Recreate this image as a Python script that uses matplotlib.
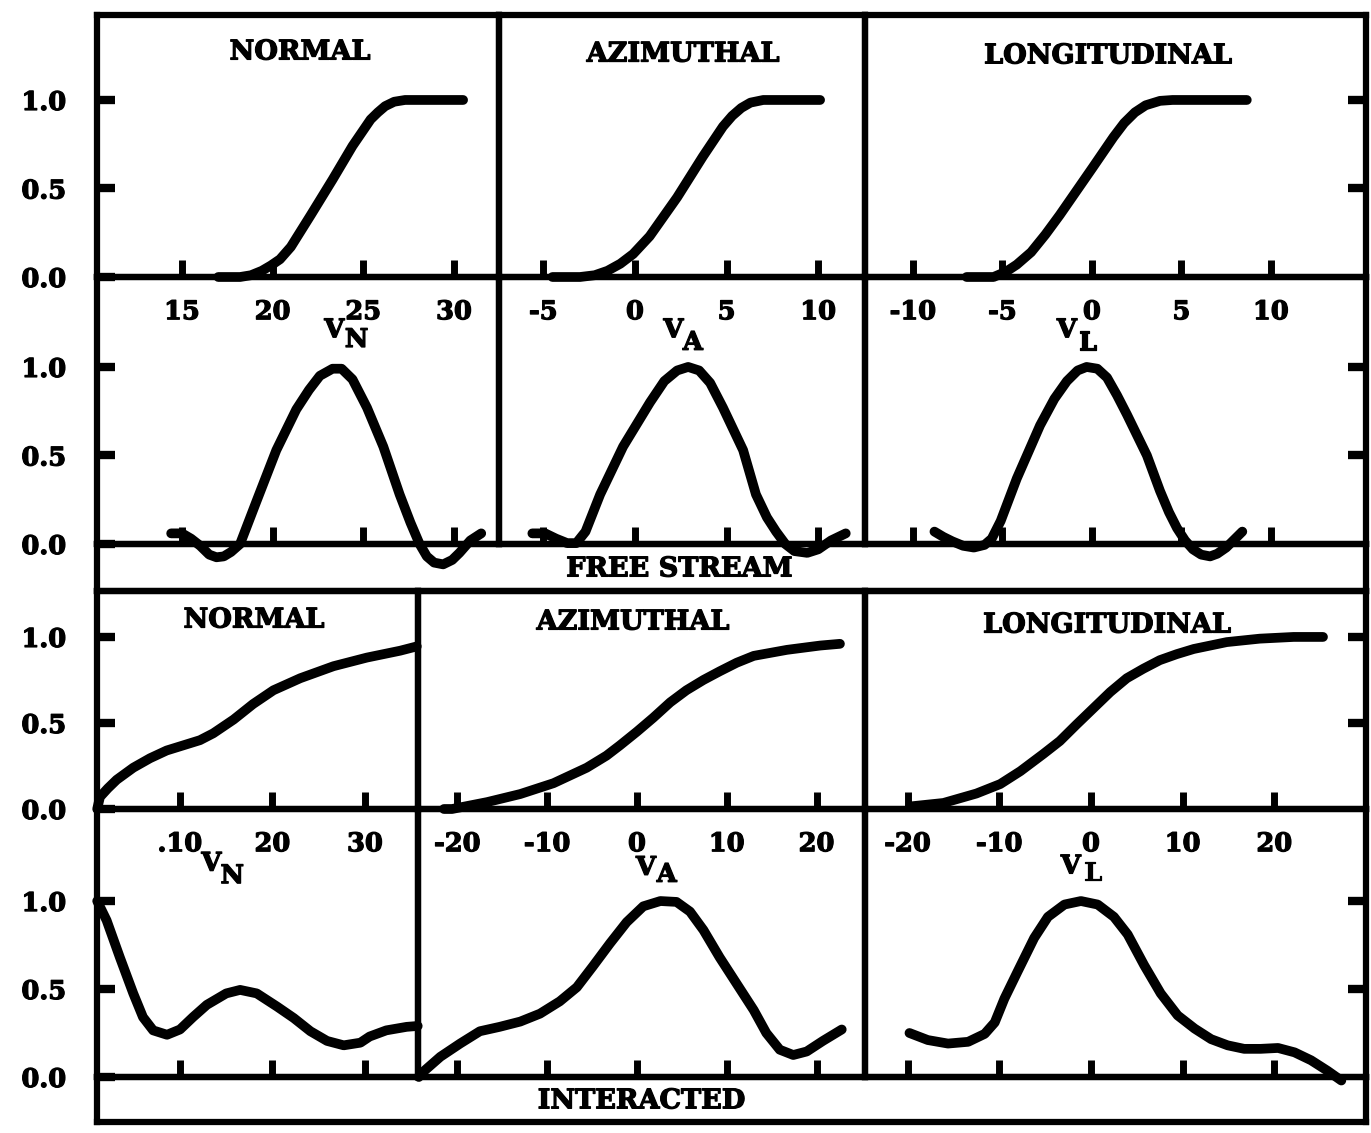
import matplotlib.pyplot as plt
import matplotlib.patheffects as pe

plt.rcParams['font.family'] = 'DejaVu Serif'
plt.rcParams['font.weight'] = 'bold'
plt.rcParams['axes.unicode_minus'] = False

# ---- free stream: cumulative (top row) ----
fs_norm_cdf_x = [17.0, 18.2, 18.8, 19.4, 19.9, 20.4, 21.0, 22.1, 23.3, 24.4, 25.4, 25.8, 26.2, 26.7, 27.3, 30.5]
fs_norm_cdf_y = [0.0, 0.0, 0.01, 0.035, 0.065, 0.10, 0.17, 0.35, 0.55, 0.74, 0.89, 0.93, 0.965, 0.99, 1.0, 1.0]
fs_azim_cdf_x = [-4.5, -3.0, -2.2, -1.5, -0.8, -0.1, 0.8, 2.3, 3.7, 4.8, 5.3, 5.8, 6.3, 7.0, 10.1]
fs_azim_cdf_y = [0.0, 0.0, 0.01, 0.035, 0.075, 0.13, 0.23, 0.45, 0.68, 0.85, 0.91, 0.955, 0.985, 1.0, 1.0]
fs_long_cdf_x = [-7.0, -5.5, -4.8, -4.2, -3.4, -2.6, -1.8, 0.05, 1.2, 1.8, 2.4, 3.0, 3.8, 4.5, 8.65]
fs_long_cdf_y = [0.0, 0.0, 0.03, 0.07, 0.14, 0.24, 0.35, 0.62, 0.79, 0.87, 0.93, 0.97, 0.995, 1.0, 1.0]

# ---- free stream: density (second row) ----
fs_norm_pdf_x = [14.4, 15.0, 15.5, 16.0, 16.5, 16.9, 17.3, 17.7, 18.2, 19.1, 20.2, 21.3, 22.0, 22.6, 23.3,
                 23.8, 24.4, 25.2, 26.1, 27.0, 27.6, 28.1, 28.5, 28.9, 29.4, 29.9, 30.3, 30.9, 31.5]
fs_norm_pdf_y = [0.06, 0.06, 0.03, -0.01, -0.06, -0.075, -0.07, -0.045, 0.0, 0.24, 0.53, 0.76, 0.87, 0.95, 0.99,
                 0.99, 0.93, 0.77, 0.55, 0.28, 0.12, 0.0, -0.07, -0.105, -0.115, -0.09, -0.05, 0.02, 0.06]
fs_azim_pdf_x = [-5.6, -4.9, -4.3, -3.7, -3.2, -2.7, -1.9, -0.65, 0.82, 1.6, 2.3, 2.9, 3.5, 4.1, 4.8,
                 5.9, 6.6, 7.2, 7.7, 8.2, 8.7, 9.4, 10.0, 10.7, 11.5]
fs_azim_pdf_y = [0.06, 0.06, 0.03, 0.005, 0.005, 0.07, 0.28, 0.55, 0.80, 0.92, 0.98, 1.0, 0.98, 0.91, 0.77,
                 0.53, 0.28, 0.15, 0.07, 0.0, -0.04, -0.05, -0.03, 0.02, 0.06]
fs_long_pdf_x = [-8.8, -8.3, -7.8, -7.2, -6.6, -6.0, -5.6, -5.1, -4.2, -2.9, -2.1, -1.4, -0.8, -0.3, 0.3,
                 0.84, 1.4, 1.96, 3.07, 3.8, 4.3, 4.75, 5.2, 5.64, 6.1, 6.6, 7.0, 7.5, 8.0, 8.4]
fs_long_pdf_y = [0.07, 0.04, 0.015, -0.01, -0.02, -0.005, 0.03, 0.13, 0.37, 0.67, 0.82, 0.92, 0.98, 1.0, 0.99,
                 0.94, 0.84, 0.73, 0.50, 0.30, 0.18, 0.09, 0.02, -0.03, -0.06, -0.07, -0.055, -0.02, 0.03, 0.07]

# ---- interacted: cumulative (third row) ----
in_norm_cdf_x = [1.05, 1.35, 2.2, 3.16, 4.95, 6.76, 8.56, 10.36, 12.16, 13.6, 15.8, 17.9, 20.1, 23.0, 26.6, 30.2, 33.8, 35.6]
in_norm_cdf_y = [0.0, 0.07, 0.12, 0.17, 0.24, 0.295, 0.34, 0.37, 0.40, 0.44, 0.52, 0.61, 0.69, 0.76, 0.83, 0.88, 0.92, 0.945]
in_azim_cdf_x = [-21.5, -20.6, -16.7, -13.0, -9.3, -5.6, -3.4, -1.9, 0.0, 1.8, 3.7, 5.5, 7.4, 9.2, 11.1, 13.0, 16.7, 20.4, 22.6]
in_azim_cdf_y = [0.0, 0.0, 0.04, 0.087, 0.15, 0.24, 0.31, 0.37, 0.45, 0.53, 0.62, 0.69, 0.75, 0.80, 0.85, 0.89, 0.925, 0.95, 0.96]
in_long_cdf_x = [-19.7, -16.1, -12.5, -9.9, -7.7, -5.2, -3.4, -1.6, 0.25, 2.1, 3.9, 5.7, 7.5, 9.35, 11.2, 14.8, 18.4, 22.1, 25.3]
in_long_cdf_y = [0.015, 0.035, 0.09, 0.145, 0.22, 0.32, 0.395, 0.49, 0.585, 0.68, 0.76, 0.815, 0.865, 0.90, 0.93, 0.97, 0.99, 1.0, 1.0]

# ---- interacted: density (bottom row) ----
in_norm_pdf_x = [1.05, 2.07, 3.5, 4.95, 6.0, 7.1, 8.6, 10.0, 11.4, 12.9, 15.0, 16.5, 18.3, 20.5, 22.3,
                 24.1, 25.9, 27.7, 29.5, 30.5, 32.3, 34.5, 35.7]
in_norm_pdf_y = [1.0, 0.89, 0.68, 0.475, 0.34, 0.265, 0.24, 0.27, 0.34, 0.41, 0.475, 0.495, 0.475, 0.40, 0.335,
                 0.26, 0.205, 0.18, 0.195, 0.23, 0.265, 0.285, 0.29]
in_azim_pdf_x = [-24.3, -23.8, -21.9, -19.7, -17.5, -15.3, -13.0, -10.8, -8.6, -6.7, -4.9, -3.0, -1.15, 0.7, 2.6,
                 4.4, 5.9, 7.4, 9.2, 11.1, 13.0, 14.4, 15.9, 17.4, 18.9, 20.7, 22.8]
in_azim_pdf_y = [0.0, 0.03, 0.115, 0.19, 0.26, 0.285, 0.315, 0.36, 0.43, 0.51, 0.63, 0.76, 0.88, 0.97, 1.0,
                 0.995, 0.94, 0.835, 0.68, 0.53, 0.38, 0.25, 0.155, 0.125, 0.145, 0.205, 0.27]
in_long_pdf_x = [-19.8, -17.8, -15.6, -13.4, -11.6, -10.5, -9.45, -8.0, -6.2, -4.7, -2.9, -1.1, 0.73, 2.5, 4.0,
                 5.8, 7.6, 9.45, 11.3, 13.1, 14.9, 16.7, 18.5, 20.4, 22.2, 24.0, 25.8, 27.3]
in_long_pdf_y = [0.25, 0.21, 0.19, 0.20, 0.245, 0.31, 0.445, 0.60, 0.79, 0.91, 0.98, 1.0, 0.98, 0.91, 0.81,
                 0.635, 0.475, 0.35, 0.275, 0.215, 0.18, 0.16, 0.16, 0.165, 0.14, 0.095, 0.035, -0.02]

# ---- tick values and labels ----
y_ticks = [0.0, 0.5, 1.0]
y_labels = ['0.0', '0.5', '1.0']
fs_norm_ticks = [15, 20, 25, 30]
fs_azim_ticks = [-5, 0, 5, 10]
fs_long_ticks = [-10, -5, 0, 5, 10]
in_norm_ticks = [10, 20, 30]
in_norm_labels = ['.10', '20', '30']
in_azim_ticks = [-20, -10, 0, 10, 20]
in_long_ticks = [-20, -10, 0, 10, 20]

W, H = 1371, 1133
fig = plt.figure(figsize=(W / 100, H / 100), dpi=100)
fig.patch.set_facecolor('white')

LW_FRAME = 4.5
LW_CURVE = 7
FS = 18.5
# thicken the serif glyphs a little
HEAVY = [pe.withStroke(linewidth=0.9, foreground='black')]


def add_box(x0, y0, x1, y1):
    # boxes are given in pixels from the top-left corner
    ax = fig.add_axes([x0 / W, 1 - y1 / H, (x1 - x0) / W, (y1 - y0) / H])
    ax.patch.set_visible(False)
    for s in ax.spines.values():
        s.set_linewidth(LW_FRAME)
    return ax


def panel(box, xlim, ytop, x, y, ticks, labels=None, side=None, title=None, tpos=None, vlab=None):
    ax = add_box(*box)
    ax.set_xlim(*xlim)
    ax.set_ylim(0, ytop)
    ax.plot(x, y, color='black', lw=LW_CURVE, solid_capstyle='round',
            solid_joinstyle='round', clip_on=False, zorder=5)
    ax.set_xticks(ticks)
    if labels is not None:
        ax.set_xticklabels(labels)
    ax.tick_params(axis='x', direction='in', length=12, width=5, pad=16,
                   labelsize=FS, labelbottom=labels is not None)
    if side == 'left':
        ax.set_yticks(y_ticks)
        ax.set_yticklabels(y_labels)
        ax.tick_params(axis='y', direction='in', length=13, width=6, pad=22, labelsize=FS)
    elif side == 'right':
        ax.yaxis.tick_right()
        ax.set_yticks(y_ticks[1:])
        ax.tick_params(axis='y', direction='in', length=13, width=6, labelright=False)
    else:
        ax.set_yticks([])
    for t in ax.get_xticklabels() + ax.get_yticklabels():
        t.set_path_effects(HEAVY)
    if title:
        ax.text(tpos[0], tpos[1], title, transform=ax.transAxes, ha='center', va='center',
                fontsize=19.5, path_effects=HEAVY)
    if vlab:
        vx, sub, dxv, dyv, dxs, dys = vlab
        tr = ax.get_xaxis_transform()
        ax.annotate('V', (vx, 0), xycoords=tr, xytext=(dxv, dyv), textcoords='offset points',
                    ha='center', va='center', fontsize=FS, annotation_clip=False,
                    path_effects=HEAVY)
        ax.annotate(sub, (vx, 0), xycoords=tr, xytext=(dxv + dxs, dys), textcoords='offset points',
                    ha='center', va='center', fontsize=FS, annotation_clip=False,
                    path_effects=HEAVY)
    return ax


# free stream block
panel((97, 15, 499, 277), (10.31, 32.48), 1.48, fs_norm_cdf_x, fs_norm_cdf_y,
      fs_norm_ticks, [str(t) for t in fs_norm_ticks], 'left', 'NORMAL', (0.505, 0.859),
      (23.4, 'N', 0, -38, 16, -45))
panel((499, 15, 865, 277), (-7.42, 12.55), 1.48, fs_azim_cdf_x, fs_azim_cdf_y,
      fs_azim_ticks, [str(t) for t in fs_azim_ticks], None, 'AZIMUTHAL', (0.503, 0.851),
      (2.1, 'A', 0, -38, 14, -47))
panel((865, 15, 1366, 277), (-12.68, 15.31), 1.48, fs_long_cdf_x, fs_long_cdf_y,
      fs_long_ticks, [str(t) for t in fs_long_ticks], 'right', 'LONGITUDINAL', (0.485, 0.844),
      (-1.4, 'L', 0, -38, 15, -47))
panel((97, 277, 499, 544), (10.31, 32.48), 1.508, fs_norm_pdf_x, fs_norm_pdf_y,
      fs_norm_ticks, None, 'left')
panel((499, 277, 865, 544), (-7.42, 12.55), 1.508, fs_azim_pdf_x, fs_azim_pdf_y,
      fs_azim_ticks, None, None)
panel((865, 277, 1366, 544), (-12.68, 15.31), 1.508, fs_long_pdf_x, fs_long_pdf_y,
      fs_long_ticks, None, 'right')

# interacted block
panel((97, 591, 418, 809), (1.03, 35.73), 1.267, in_norm_cdf_x, in_norm_cdf_y,
      in_norm_ticks, in_norm_labels, 'left', 'NORMAL', (0.489, 0.867),
      (13.4, 'N', 0, -39, 15, -48))
panel((418, 591, 865, 809), (-24.39, 25.39), 1.267, in_azim_cdf_x, in_azim_cdf_y,
      in_azim_ticks, [str(t) for t in in_azim_ticks], None, 'AZIMUTHAL', (0.481, 0.858),
      (1.0, 'A', 0, -42, 15, -47))
panel((865, 591, 1366, 809), (-24.65, 29.99), 1.267, in_long_cdf_x, in_long_cdf_y,
      in_long_ticks, [str(t) for t in in_long_ticks], 'right', 'LONGITUDINAL', (0.483, 0.844),
      (-2.2, 'L', 0, -41, 16, -46))
panel((97, 809, 418, 1077), (1.03, 35.73), 1.523, in_norm_pdf_x, in_norm_pdf_y,
      in_norm_ticks, None, 'left')
panel((418, 809, 865, 1077), (-24.39, 25.39), 1.523, in_azim_pdf_x, in_azim_pdf_y,
      in_azim_ticks, None, None)
panel((865, 809, 1366, 1077), (-24.65, 29.99), 1.523, in_long_pdf_x, in_long_pdf_y,
      in_long_ticks, None, 'right')

# caption strips under each block
for box, text, xf in [((97, 544, 1366, 591), 'FREE STREAM', 0.459),
                      ((97, 1077, 1366, 1122), 'INTERACTED', 0.429)]:
    ax = add_box(*box)
    ax.set_xticks([])
    ax.set_yticks([])
    ax.text(xf, 0.47, text, transform=ax.transAxes, ha='center', va='center', fontsize=19.5,
            path_effects=HEAVY)

fig.savefig('out.png', dpi=100, facecolor='white')
